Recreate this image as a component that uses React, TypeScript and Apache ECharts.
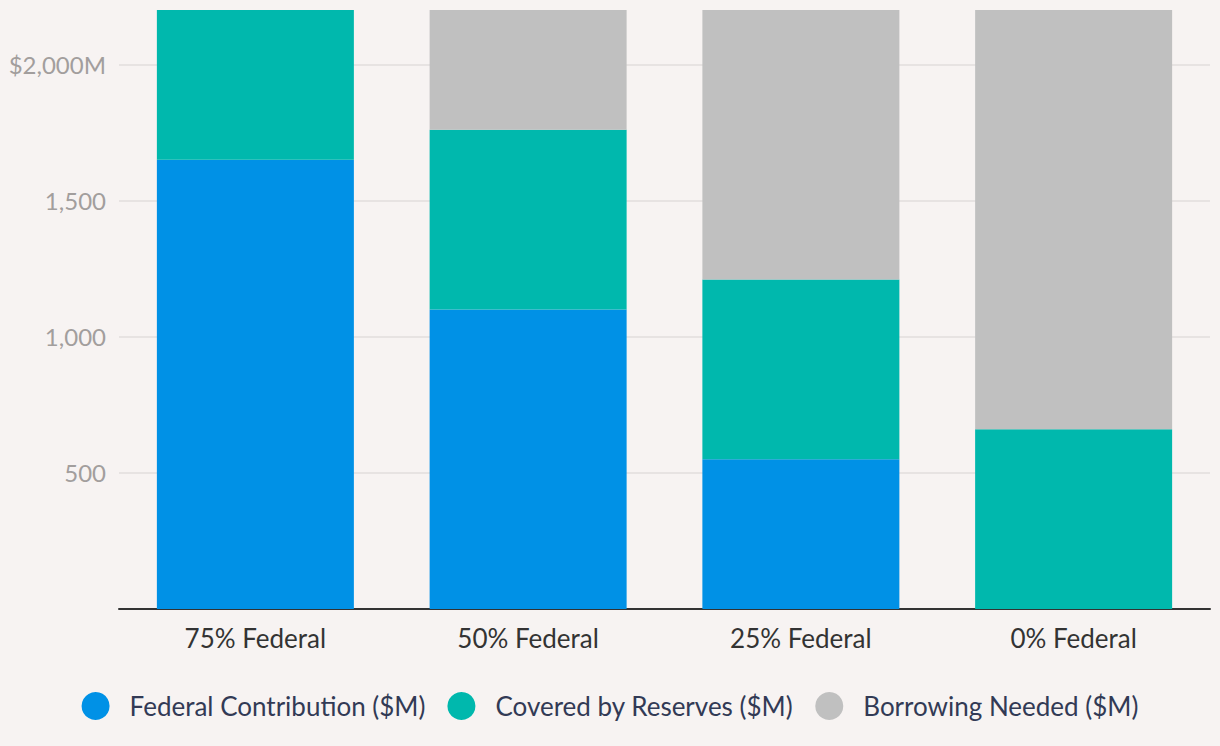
import React, { useEffect, useRef } from "react";
import * as echarts from "echarts";

const categories = ["75% Federal", "50% Federal", "25% Federal", "0% Federal"];
const federal = [1650, 1100, 550, 0];
const reserves = [550, 660, 660, 660];
const borrowing = [0, 440, 990, 1540];
const seriesNames = ["Federal Contribution ($M)", "Covered by Reserves ($M)", "Borrowing Needed ($M)"];
const colors = ["#0091e6", "#00b8ad", "#c0c0c0"];

const FONT = "Lato, 'Noto Sans', sans-serif";

export default function App() {
  const ref = useRef<HTMLDivElement>(null);
  useEffect(() => {
    document.body.style.margin = "0";
    document.body.style.background = "#f7f3f2";
    const chart = echarts.init(ref.current!, null, { renderer: "svg" });
    const mk = (name: string, data: number[], color: string) => ({
      name,
      type: "bar",
      stack: "total",
      data,
      barWidth: 197,
      itemStyle: { color },
    });
    chart.setOption({
      animation: false,
      backgroundColor: "#f7f3f2",
      textStyle: { fontFamily: FONT },
      grid: { left: 119, right: 10, top: 10, bottom: 137 },
      legend: {
        bottom: 21,
        left: "center",
        icon: "circle",
        itemWidth: 28,
        itemHeight: 28,
        itemGap: 22,
        textStyle: { fontFamily: FONT, fontSize: 26, color: "#323a55", padding: [0, 0, 0, 15] },
        data: seriesNames,
      },
      xAxis: {
        type: "category",
        data: categories,
        axisLine: { lineStyle: { color: "#333333", width: 2 } },
        axisTick: { show: false },
        axisLabel: { fontFamily: FONT, fontSize: 26, color: "#333333", margin: 16 },
      },
      yAxis: {
        type: "value",
        min: 0,
        max: 2200,
        interval: 500,
        axisLine: { show: false },
        axisTick: { show: false },
        splitLine: { showMaxLine: false, lineStyle: { color: "#e2dedd", width: 1.5 } },
        axisLabel: {
          fontFamily: FONT,
          fontSize: 24,
          color: "#a29e9d",
          margin: 13,
          showMaxLabel: false,
          formatter: (v: number) =>
            v === 0 || v > 2000 ? "" : v === 2000 ? "$2,000M" : v.toLocaleString("en-US"),
        },
      },
      series: [
        mk(seriesNames[0], federal, colors[0]),
        mk(seriesNames[1], reserves, colors[1]),
        mk(seriesNames[2], borrowing, colors[2]),
      ],
    });
    return () => chart.dispose();
  }, []);
  return <div ref={ref} style={{ width: 1220, height: 746 }} />;
}
